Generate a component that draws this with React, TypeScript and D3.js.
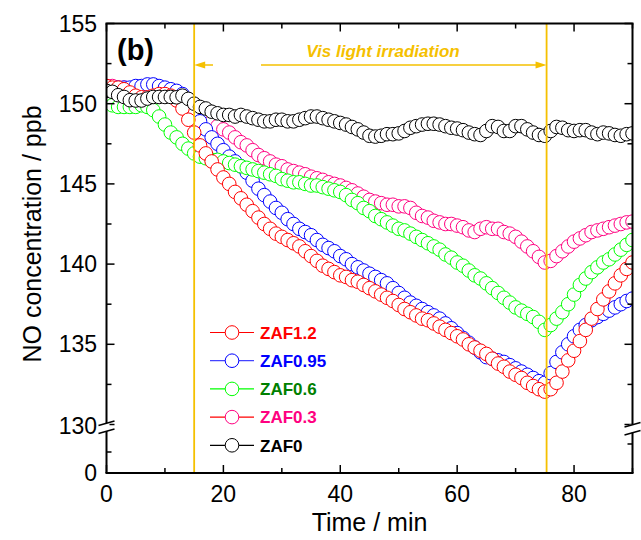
import React from "react";
import * as d3 from "d3";

const W = 641;
const H = 540;

// Sampling times (min)
const time = d3.range(0, 91, 1);

const zaf12 = [151.1, 151.0, 151.0, 150.9, 150.7, 150.5, 150.4, 150.4, 150.5, 150.6, 150.6, 150.5, 150.2, 149.7, 149.0, 148.2, 147.4, 146.9, 146.4, 145.9, 145.4, 145.0, 144.5, 144.1, 143.7, 143.3, 142.9, 142.5, 142.2, 141.9, 141.7, 141.5, 141.3, 141.1, 140.8, 140.5, 140.2, 139.9, 139.7, 139.5, 139.3, 139.2, 139.0, 138.9, 138.7, 138.5, 138.3, 138.1, 137.9, 137.7, 137.45, 137.2, 137.0, 136.8, 136.6, 136.5, 136.3, 136.1, 135.9, 135.7, 135.5, 135.3, 135.0, 134.8, 134.6, 134.4, 134.1, 133.8, 133.6, 133.3, 133.1, 132.9, 132.6, 132.4, 132.2, 132.05, 132.2, 132.6, 133.3, 134.0, 134.6, 135.2, 135.9, 136.6, 137.2, 137.8, 138.3, 138.8, 139.3, 139.7, 140.1];

const zaf095 = [150.8, 150.9, 151.0, 151.0, 151.0, 151.1, 151.1, 151.2, 151.2, 151.1, 151.0, 150.9, 150.8, 150.6, 150.2, 149.6, 148.9, 148.4, 147.9, 147.5, 147.1, 146.7, 146.4, 146.1, 145.7, 145.2, 144.7, 144.3, 143.9, 143.5, 143.2, 142.8, 142.5, 142.2, 142.0, 141.8, 141.5, 141.2, 141.0, 140.8, 140.5, 140.3, 140.0, 139.8, 139.6, 139.4, 139.2, 139.0, 138.8, 138.5, 138.2, 137.9, 137.6, 137.4, 137.2, 137.0, 136.8, 136.6, 136.3, 136.0, 135.7, 135.4, 135.1, 134.8, 134.5, 134.2, 134.1, 134.0, 133.9, 133.7, 133.5, 133.3, 133.1, 132.9, 132.7, 132.6, 133.2, 133.9, 134.5, 135.0, 135.5, 135.9, 136.2, 136.5, 136.7, 136.9, 137.1, 137.3, 137.5, 137.7, 137.85];

const zaf06 = [150.1, 149.9, 149.8, 149.8, 149.8, 149.8, 149.9, 149.8, 149.6, 149.2, 148.7, 148.2, 147.9, 147.5, 147.2, 146.9, 146.7, 146.6, 146.5, 146.5, 146.4, 146.3, 146.2, 146.1, 146.0, 145.9, 145.8, 145.7, 145.6, 145.5, 145.3, 145.2, 145.1, 145.1, 145.0, 144.9, 144.9, 144.8, 144.7, 144.6, 144.5, 144.3, 144.0, 143.8, 143.5, 143.3, 143.0, 142.8, 142.6, 142.4, 142.2, 142.1, 141.9, 141.7, 141.5, 141.3, 141.1, 140.9, 140.6, 140.4, 140.1, 139.9, 139.6, 139.3, 139.1, 138.8, 138.5, 138.2, 137.9, 137.6, 137.3, 137.1, 136.9, 136.7, 136.4, 135.9, 136.2, 136.6, 137.0, 137.5, 138.1, 138.7, 139.1, 139.5, 139.8, 140.1, 140.3, 140.6, 140.9, 141.2, 141.5];

const zaf03 = [151.1, 151.1, 151.0, 151.0, 150.9, 150.9, 150.8, 150.8, 150.7, 150.7, 150.6, 150.5, 150.4, 150.2, 150.0, 149.7, 149.4, 149.2, 148.9, 148.6, 148.4, 148.2, 147.9, 147.6, 147.4, 147.1, 146.8, 146.6, 146.4, 146.2, 146.1, 145.9, 145.8, 145.7, 145.6, 145.45, 145.35, 145.25, 145.1, 145.0, 144.9, 144.75, 144.6, 144.4, 144.2, 144.0, 143.9, 143.8, 143.7, 143.7, 143.6, 143.6, 143.5, 143.2, 143.0, 142.9, 142.7, 142.6, 142.5, 142.5, 142.4, 142.3, 142.1, 142.0, 142.2, 142.3, 142.2, 142.2, 142.0, 141.9, 141.7, 141.4, 141.1, 140.8, 140.45, 140.1, 140.2, 140.5, 140.8, 141.1, 141.4, 141.6, 141.8, 142.0, 142.1, 142.2, 142.3, 142.4, 142.5, 142.6, 142.65];

const zaf0 = [150.8, 150.74, 150.53, 150.42, 150.22, 150.2, 150.2, 150.32, 150.42, 150.42, 150.42, 150.42, 150.4, 150.5, 150.3, 150.0, 149.8, 149.7, 149.5, 149.4, 149.3, 149.3, 149.2, 149.3, 149.2, 149.1, 149.0, 148.9, 148.9, 149.0, 149.0, 148.9, 148.9, 149.0, 149.1, 149.2, 149.2, 149.1, 149.0, 148.9, 148.8, 148.7, 148.55, 148.4, 148.2, 148.0, 147.95, 148.0, 148.1, 148.1, 148.15, 148.3, 148.5, 148.6, 148.7, 148.75, 148.75, 148.7, 148.6, 148.5, 148.45, 148.35, 148.2, 148.1, 148.05, 148.3, 148.6, 148.55, 148.3, 148.3, 148.6, 148.6, 148.4, 148.2, 148.05, 148.0, 148.3, 148.55, 148.5, 148.35, 148.3, 148.35, 148.35, 148.2, 148.1, 148.2, 148.15, 148.05, 148.0, 148.1, 148.15];

const seriesNames = ["ZAF1.2", "ZAF0.95", "ZAF0.6", "ZAF0.3", "ZAF0"];
const seriesValues = [zaf12, zaf095, zaf06, zaf03, zaf0];
const markerColors = ["#FF0000", "#0000FF", "#00FF00", "#FF0080", "#000000"];
const legendLineColors = ["#FF0000", "#4444FF", "#00FF00", "#FF0000", "#000000"];
const legendTextColors = ["#FF0000", "#0000FF", "#008000", "#FF0080", "#000000"];
// drawing order, bottom to top
const drawOrder = [3, 1, 2, 0, 4];

const xMajor = [0, 20, 40, 60, 80];
const xMinor = [10, 30, 50, 70, 90];
const yMajor = [130, 135, 140, 145, 150, 155];
const yMinor = [132.5, 137.5, 142.5, 147.5, 152.5];
const yLowMajor = [0];
const yLowMinor = [5];

const lightOn = 15;
const lightOff = 75.3;

const FONT = "Arial, 'Liberation Sans', Helvetica, sans-serif";
const GOLD = "#F5C000";

export default function App() {
  const x0 = 106.5, x1 = 632.5;
  const yTop = 23.5, yBot = 473;
  const x = d3.scaleLinear().domain([0, 90]).range([x0, x1]);
  const y = d3.scaleLinear().domain([130, 155]).range([424.5, yTop]);
  const yLow = d3.scaleLinear().domain([0, 10]).range([yBot, 431]);

  const R = 6.8;
  const maj = 8, min = 5;
  const breakY = 427;

  const breakMarks = (ax: number, dy: number) => (
    <g>
      <rect x={ax - 3} y={breakY - 4 + dy} width={6} height={8} fill="#fff" />
      <line x1={ax - 8} y1={breakY - 1.5 + dy} x2={ax + 8} y2={breakY - 6 + dy} stroke="#000" strokeWidth={1.4} />
      <line x1={ax - 8} y1={breakY + 6.5 + dy} x2={ax + 8} y2={breakY + 2 + dy} stroke="#000" strokeWidth={1.4} />
    </g>
  );

  return (
    <svg width={W} height={H} style={{ position: "absolute", left: 0, top: 0, background: "#fff" }} fontFamily={FONT}>
      <defs>
        <clipPath id="plotclip">
          <rect x={x0} y={yTop} width={x1 - x0} height={yBot - yTop} />
        </clipPath>
      </defs>

      {/* data */}
      <g clipPath="url(#plotclip)">
        {drawOrder.map((si) => (
          <g key={si}>
            {seriesValues[si].map((v, i) => (
              <circle key={i} cx={x(time[i])} cy={y(v)} r={R} fill="#fff" stroke={markerColors[si]} strokeWidth={1} />
            ))}
          </g>
        ))}
      </g>

      {/* irradiation lines */}
      {[lightOn, lightOff].map((t) => (
        <line key={t} x1={x(t)} x2={x(t)} y1={yTop} y2={yBot} stroke={GOLD} strokeWidth={1.8} />
      ))}
      {/* arrows */}
      <line x1={x(lightOn) + 6} x2={213} y1={65} y2={65} stroke={GOLD} strokeWidth={1.5} />
      <path d={`M${x(lightOn)},65 L${x(lightOn) + 11},61.5 L${x(lightOn) + 11},68.5 Z`} fill={GOLD} />
      <line x1={261} x2={x(lightOff) - 6} y1={65} y2={65} stroke={GOLD} strokeWidth={1.5} />
      <path d={`M${x(lightOff)},65 L${x(lightOff) - 11},61.5 L${x(lightOff) - 11},68.5 Z`} fill={GOLD} />
      <text x={383} y={57} textAnchor="middle" fontSize={17} fontWeight="bold" fontStyle="italic" fill={GOLD}>
        Vis light irradiation
      </text>

      {/* frame */}
      <g stroke="#000" strokeWidth={2} fill="none">
        <line x1={x0 - 1} x2={x1 + 1} y1={yTop} y2={yTop} />
        <line x1={x0 - 1} x2={x1 + 1} y1={yBot} y2={yBot} />
        <line x1={x0} x2={x0} y1={yTop} y2={yBot} />
        <line x1={x1} x2={x1} y1={yTop} y2={yBot} />
      </g>

      {/* x ticks */}
      <g stroke="#000" strokeWidth={1.5}>
        {xMajor.map((t) => (
          <g key={"xm" + t}>
            <line x1={x(t)} x2={x(t)} y1={yBot} y2={yBot - maj} />
            <line x1={x(t)} x2={x(t)} y1={yTop} y2={yTop + maj} />
          </g>
        ))}
        {xMinor.map((t) => (
          <g key={"xn" + t}>
            <line x1={x(t)} x2={x(t)} y1={yBot} y2={yBot - min} />
            <line x1={x(t)} x2={x(t)} y1={yTop} y2={yTop + min} />
          </g>
        ))}
        {yMajor.map((v) => (
          <g key={"ym" + v}>
            <line x1={x0} x2={x0 + maj} y1={y(v)} y2={y(v)} />
            <line x1={x1} x2={x1 - maj} y1={y(v)} y2={y(v)} />
          </g>
        ))}
        {yMinor.map((v) => (
          <g key={"yn" + v}>
            <line x1={x0} x2={x0 + min} y1={y(v)} y2={y(v)} />
            <line x1={x1} x2={x1 - min} y1={y(v)} y2={y(v)} />
          </g>
        ))}
        {yLowMinor.map((v) => (
          <g key={"yl" + v}>
            <line x1={x0} x2={x0 + min} y1={yLow(v)} y2={yLow(v)} />
            <line x1={x1} x2={x1 - min} y1={yLow(v) - 8} y2={yLow(v) - 8} />
          </g>
        ))}
      </g>

      {/* axis breaks */}
      {breakMarks(x0, 0)}
      {breakMarks(x1, 1.5)}

      {/* tick labels */}
      <g fontSize={23} fill="#000">
        {xMajor.map((t) => (
          <text key={"xl" + t} x={x(t)} y={502} textAnchor="middle">{t}</text>
        ))}
        {yMajor.map((v) => (
          <text key={"yl" + v} x={97} y={v === 130 ? y(v) + 1.5 : y(v)} dy="0.35em" textAnchor="end">{v}</text>
        ))}
        {yLowMajor.map((v) => (
          <text key={"yll" + v} x={97} y={yLow(v)} dy="0.35em" textAnchor="end">{v}</text>
        ))}
      </g>

      {/* axis titles */}
      <text x={(x0 + x1) / 2} y={531} textAnchor="middle" fontSize={25} fill="#000">Time / min</text>
      <text transform={`translate(41,234) rotate(-90)`} textAnchor="middle" fontSize={25} fill="#000">
        NO concentration / ppb
      </text>

      {/* panel label */}
      <text x={117} y={60} fontSize={29} fontWeight="bold" fill="#000">(b)</text>

      {/* legend */}
      {seriesNames.map((name, i) => {
        const cy = 332.5 + i * 28.2;
        return (
          <g key={name}>
            <line x1={210} x2={254} y1={cy} y2={cy} stroke={legendLineColors[i]} strokeWidth={1.2} />
            <circle cx={232} cy={cy} r={R} fill="#fff" stroke={markerColors[i]} strokeWidth={1} />
            <text x={260} y={cy + 6.3} fontSize={17} fontWeight="bold" fill={legendTextColors[i]}>{name}</text>
          </g>
        );
      })}
    </svg>
  );
}
